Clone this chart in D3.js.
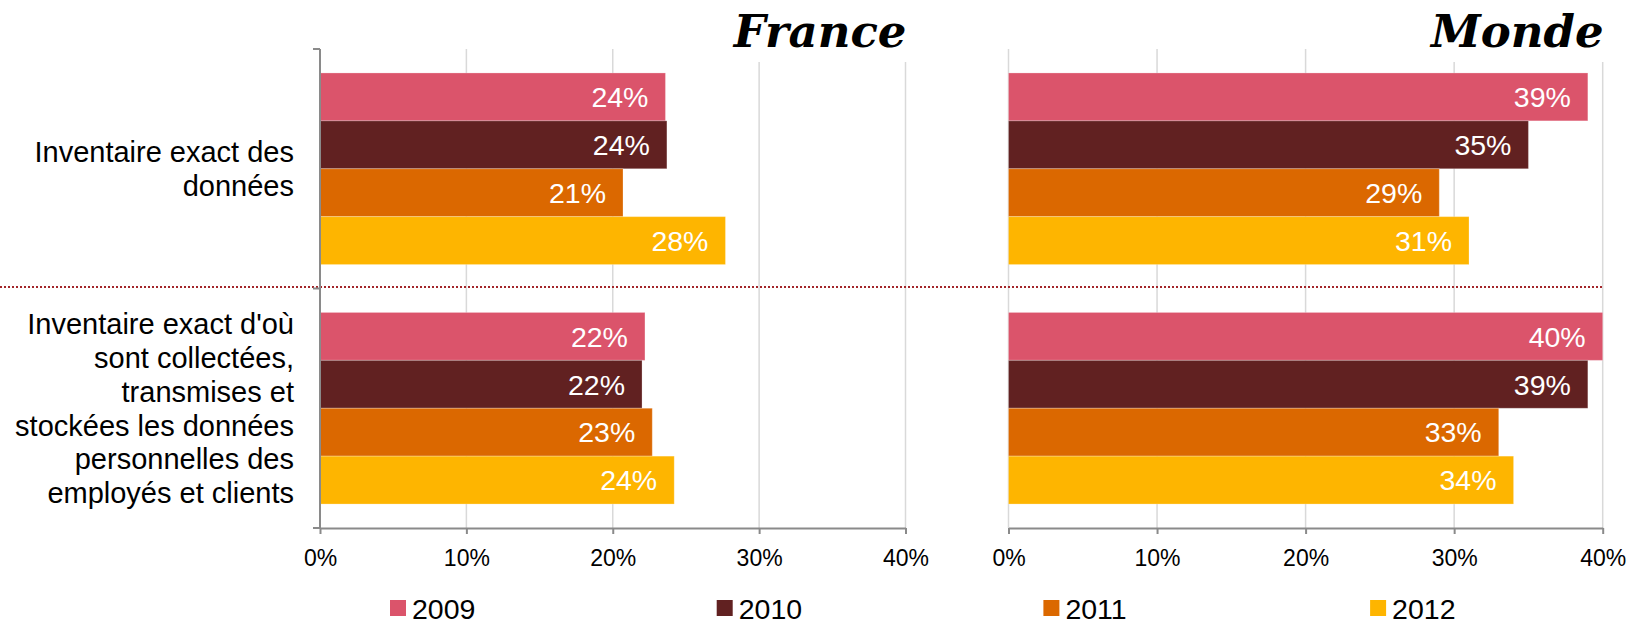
<!DOCTYPE html>
<html>
<head>
<meta charset="utf-8">
<script src="https://cdn.jsdelivr.net/npm/d3@7"></script>
<style>
  html, body { margin: 0; padding: 0; background: #fff; }
  svg { display: block; }
</style>
</head>
<body>
<svg id="chart" width="1627" height="624"></svg>
<script>
// ---- data ----
const categories = ["Inventaire exact des données", "Inventaire exact d'où sont collectées, transmises et stockées les données personnelles des employés et clients"];
const categoryLines = [
  ["Inventaire exact des", "données"],
  ["Inventaire exact d'où", "sont collectées,", "transmises et", "stockées les données", "personnelles des", "employés et clients"]
];
const years = ["2009", "2010", "2011", "2012"];
const panels = ["France", "Monde"];
// values per category, per year (%)
const franceValues = [
  [23.6, 23.7, 20.7, 27.7],
  [22.2, 22.0, 22.7, 24.2]
];
const mondeValues = [
  [39.0, 35.0, 29.0, 31.0],
  [40.0, 39.0, 33.0, 34.0]
];
const tickValues = [0, 10, 20, 30, 40];
const colors = ["#DB546B", "#612121", "#DB6800", "#FEB500"];

(function () {
// ---- layout ----
const svg = d3.select("#chart");
const plotTop = 49, plotBottom = 528;
const y = d3.scaleBand().domain(categories).range([plotTop, plotBottom]).paddingInner(0.2).paddingOuter(0.1);
const yi = d3.scaleBand().domain(years).range([0, y.bandwidth()]);
const xF = d3.scaleLinear().domain([0, 40]).range([320, 905.5]);
const xM = d3.scaleLinear().domain([0, 40]).range([1008.5, 1602.7]);
const panelDefs = [
  { name: panels[0], x: xF, values: franceValues, yAxis: true },
  { name: panels[1], x: xM, values: mondeValues, yAxis: false }
];
const font = "'Liberation Sans', Arial, sans-serif";

// gridlines
panelDefs.forEach(p => {
  svg.append("g").selectAll("line")
    .data(tickValues.filter(t => p.yAxis ? t > 0 : true))
    .join("line")
    .attr("x1", d => p.x(d)).attr("x2", d => p.x(d))
    .attr("y1", plotTop).attr("y2", plotBottom)
    .attr("stroke", "#d9d9d9").attr("stroke-width", 1.5);
});

// titles with white background
panelDefs.forEach(p => {
  const g = svg.append("g");
  const bg = g.append("rect").attr("fill", "#fff");
  const t = g.append("text")
    .attr("x", p.x(40) + 1).attr("y", 47)
    .attr("text-anchor", "end")
    .attr("font-family", "'DejaVu Serif', Georgia, serif")
    .attr("font-weight", "bold").attr("font-style", "italic")
    .attr("font-size", 45)
    .attr("fill", "#000")
    .text(p.name);
  const bb = t.node().getBBox();
  bg.attr("x", bb.x - 4).attr("y", bb.y).attr("width", bb.width + 8).attr("height", bb.height + 4);
});

// separator dotted line
const boundary = y(categories[1]) - y.step() * y.paddingInner() / 2;
svg.append("line")
  .attr("x1", 0).attr("x2", xM(40))
  .attr("y1", boundary - 1.5).attr("y2", boundary - 1.5)
  .attr("stroke", "#A3262A").attr("stroke-width", 2)
  .attr("stroke-dasharray", "2,2");

// bars
panelDefs.forEach(p => {
  categories.forEach((c, ci) => {
    const g = svg.append("g").attr("transform", `translate(0,${y(c)})`);
    const rows = years.map((yr, i) => ({ yr, v: p.values[ci][i], i }));
    g.selectAll("rect")
      .data(rows)
      .join("rect")
      .attr("x", p.x(0))
      .attr("y", d => yi(d.yr))
      .attr("width", d => p.x(d.v) - p.x(0))
      .attr("height", yi.bandwidth())
      .attr("fill", d => colors[d.i])
      .attr("stroke", "rgba(255,255,255,0.25)")
      .attr("stroke-width", 1);
    g.selectAll("text")
      .data(rows)
      .join("text")
      .attr("x", d => p.x(d.v) - 17)
      .attr("y", d => yi(d.yr) + yi.bandwidth() / 2)
      .attr("dy", "0.36em")
      .attr("text-anchor", "end")
      .attr("font-family", font)
      .attr("font-size", 28.5)
      .attr("fill", "#fff")
      .text(d => Math.round(d.v) + "%");
  });
});

// x axes
panelDefs.forEach(p => {
  const ax = svg.append("g")
    .attr("transform", `translate(0,${plotBottom})`)
    .call(d3.axisBottom(p.x).tickValues(tickValues).tickFormat(d => d + "%")
      .tickSizeInner(6).tickSizeOuter(0).tickPadding(16));
  ax.select(".domain").attr("stroke", "#8a8a8a").attr("stroke-width", 2);
  ax.selectAll(".tick line").attr("stroke", "#8a8a8a").attr("stroke-width", 2);
  ax.selectAll(".tick text").attr("font-family", font).attr("font-size", 23).attr("fill", "#000");
});

// France y axis
const yAx = svg.append("g");
yAx.append("line")
  .attr("x1", xF(0)).attr("x2", xF(0)).attr("y1", plotTop).attr("y2", plotBottom)
  .attr("stroke", "#8a8a8a").attr("stroke-width", 2);
const bounds = categories.map(c => y(c) - y.step() * y.paddingInner() / 2).concat([plotBottom]);
yAx.selectAll("line.t").data(bounds).join("line").attr("class", "t")
  .attr("x1", xF(0) - 7).attr("x2", xF(0))
  .attr("y1", d => d).attr("y2", d => d)
  .attr("stroke", "#8a8a8a").attr("stroke-width", 2);

// category labels
const lineH = 33.8;
categories.forEach((c, ci) => {
  const lines = categoryLines[ci];
  const cy = y(c) + y.bandwidth() / 2;
  const t = svg.append("text")
    .attr("text-anchor", "end")
    .attr("font-family", font)
    .attr("font-size", 29)
    .attr("fill", "#000");
  lines.forEach((ln, li) => {
    t.append("tspan")
      .attr("x", 294)
      .attr("y", cy + (li - (lines.length - 1) / 2) * lineH)
      .attr("dy", "0.36em")
      .text(ln);
  });
});

// legend
const legend = svg.append("g");
years.forEach((yr, i) => {
  const lx = 390 + i * 326.7;
  legend.append("rect").attr("x", lx).attr("y", 600).attr("width", 16).attr("height", 16).attr("fill", colors[i]);
  legend.append("text").attr("x", lx + 22).attr("y", 608.5).attr("dy", "0.36em")
    .attr("font-family", font).attr("font-size", 28.5).attr("fill", "#000").text(yr);
});
})();
</script>
</body>
</html>
